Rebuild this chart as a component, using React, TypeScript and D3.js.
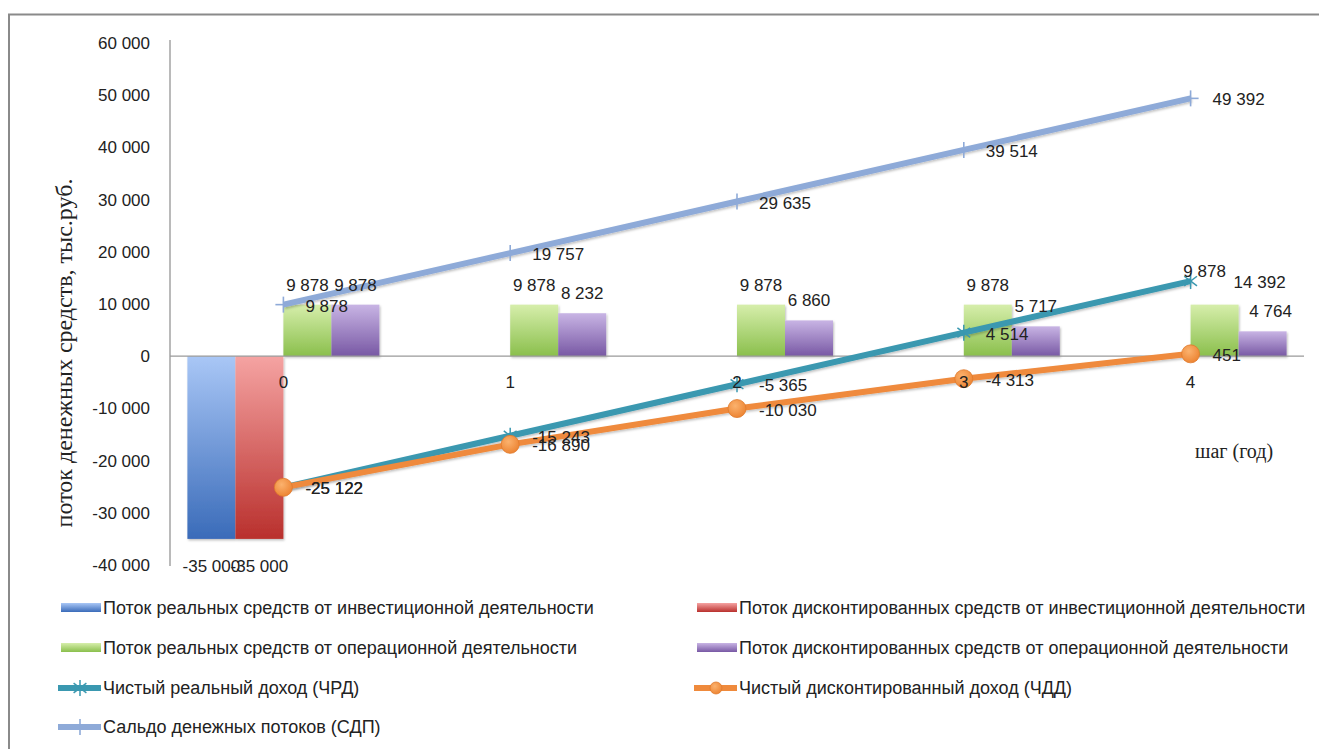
import React from 'react';
import * as d3 from 'd3';

const categories = ['0', '1', '2', '3', '4'];
const realInvest = [-35000, 0, 0, 0, 0];
const discInvest = [-35000, 0, 0, 0, 0];
const realOper = [9878, 9878, 9878, 9878, 9878];
const discOper = [9878, 8232, 6860, 5717, 4764];
const chrd = [-25122, -15243, -5365, 4514, 14392];
const chdd = [-25122, -16890, -10030, -4313, 451];
const sdp = [9878, 19757, 29635, 39514, 49392];
const yTicks = [-40000, -30000, -20000, -10000, 0, 10000, 20000, 30000, 40000, 50000, 60000];

const barSeriesNames = [
  'Поток реальных средств от инвестиционной деятельности',
  'Поток дисконтированных средств от инвестиционной деятельности',
  'Поток реальных средств от операционной деятельности',
  'Поток дисконтированных средств от операционной деятельности',
];
const lineSeriesNames = [
  'Чистый реальный доход (ЧРД)',
  'Чистый дисконтированный доход (ЧДД)',
  'Сальдо денежных потоков (СДП)',
];
const yTitle = 'поток денежных средств, тыс.руб.';
const xTitle = 'шаг (год)';

const W = 1319;
const H = 749;
const FONT = '"Liberation Sans", Arial, sans-serif';
const SERIF = '"Liberation Serif", "Times New Roman", serif';
const FS = 17;
const LFS = 18;

const locale = d3.formatLocale({ decimal: ',', thousands: ' ', grouping: [3], currency: ['', ''], minus: '-' });
const fmt = locale.format(',d');

const barSeries = [
  { key: 'ri', name: barSeriesNames[0], values: realInvest, c0: '#a9c7f6', c1: '#3a6bb9' },
  { key: 'di', name: barSeriesNames[1], values: discInvest, c0: '#f5a3a2', c1: '#b9302d' },
  { key: 'ro', name: barSeriesNames[2], values: realOper, c0: '#d6eeab', c1: '#8abf4c' },
  { key: 'do', name: barSeriesNames[3], values: discOper, c0: '#c8b4e4', c1: '#7858a4' },
];

const lineSeries = [
  { key: 'sdp', name: lineSeriesNames[2], values: sdp, color: '#8eaad8', marker: 'plus' },
  { key: 'chrd', name: lineSeriesNames[0], values: chrd, color: '#3a98b0', marker: 'star' },
  { key: 'chdd', name: lineSeriesNames[1], values: chdd, color: '#ef8a3c', marker: 'circle' },
];

function Marker({ type, x, y, color, r = 9 }: { type: string; x: number; y: number; color: string; r?: number }) {
  if (type === 'plus') {
    return (
      <g stroke={color} strokeWidth={1.6}>
        <line x1={x} x2={x} y1={y - 8} y2={y + 8} />
        <line x1={x - 8} x2={x + 8} y1={y} y2={y} />
      </g>
    );
  }
  if (type === 'star') {
    const s = 8;
    return (
      <g stroke={color} strokeWidth={1.5}>
        <line x1={x} x2={x} y1={y - s} y2={y + s} />
        <line x1={x - s * 0.8} x2={x + s * 0.8} y1={y - s * 0.6} y2={y + s * 0.6} />
        <line x1={x - s * 0.8} x2={x + s * 0.8} y1={y + s * 0.6} y2={y - s * 0.6} />
      </g>
    );
  }
  return <circle cx={x} cy={y} r={r} fill="url(#gOrange)" stroke="#e07a2c" strokeWidth={0.8} />;
}

export default function App() {
  const left = 170;
  const right = 1304;
  const y = d3.scaleLinear().domain([-40000, 60000]).range([565, 43]);
  const x = d3.scaleBand<string>().domain(categories).range([left, right]).padding(0);
  const bw = x.bandwidth();
  const xs = d3
    .scaleBand<string>()
    .domain(barSeries.map((s) => s.key))
    .range([0, bw])
    .paddingInner(0)
    .paddingOuter(0.3625);
  const cx = (i: number) => (x(categories[i]) as number) + bw / 2;
  const y0 = y(0);

  const lineGen = (vals: number[]) =>
    d3
      .line<number>()
      .x((_, i) => cx(i))
      .y((d) => y(d))(vals) as string;

  const legendItems = [
    { col: 0, row: 0, kind: 'bar', s: barSeries[0] },
    { col: 1, row: 0, kind: 'bar', s: barSeries[1] },
    { col: 0, row: 1, kind: 'bar', s: barSeries[2] },
    { col: 1, row: 1, kind: 'bar', s: barSeries[3] },
    { col: 0, row: 2, kind: 'line', s: lineSeries[1] },
    { col: 1, row: 2, kind: 'line', s: lineSeries[2] },
    { col: 0, row: 3, kind: 'line', s: lineSeries[0] },
  ];
  const legX = [60, 696];
  const legY = [608, 648, 688, 727];

  // label nudges mimicking the reference's placement where labels collide
  const lineLabelDx = (key: string, i: number) => (key === 'chrd' && i === 4 ? 43 : 22);
  const barLabelNudge = (key: string, i: number) => {
    if (i === 4 && key === 'ro') return [-10, -14];
    if (i === 4 && key === 'do') return [8, 0];
    return [0, 0];
  };

  return (
    <svg width={W} height={H} style={{ position: 'absolute', left: 0, top: 0, background: '#fff' }}>
      <defs>
        {barSeries.map((s) => (
          <linearGradient key={s.key} id={'g' + s.key} x1="0" y1="0" x2="0" y2="1">
            <stop offset="0" stopColor={s.c0} />
            <stop offset="1" stopColor={s.c1} />
          </linearGradient>
        ))}
        <radialGradient id="gOrange" cx="0.4" cy="0.35" r="0.7">
          <stop offset="0" stopColor="#fbb26e" />
          <stop offset="1" stopColor="#ec8230" />
        </radialGradient>
        <filter id="shadow" x="-20%" y="-20%" width="140%" height="140%">
          <feDropShadow dx="1" dy="1.5" stdDeviation="1.2" floodColor="#000" floodOpacity="0.25" />
        </filter>
      </defs>
      <rect x={0} y={0} width={W} height={H} fill="#fff" />
      {/* frame */}
      <path d={`M9,${H + 5} V14.5 H${W + 5}`} fill="none" stroke="#8a8a8a" strokeWidth={2} />

      {/* y axis */}
      <line x1={left} x2={left} y1={40} y2={566} stroke="#8c8c8c" strokeWidth={1.2} />
      {yTicks.map((t) => (
        <text key={t} x={150} y={y(t) + 6} textAnchor="end" fontFamily={FONT} fontSize={FS} fill="#222">
          {fmt(t)}
        </text>
      ))}
      <text
        transform={`translate(72, 353) rotate(-90)`}
        textAnchor="middle"
        fontFamily={SERIF}
        fontSize={24}
        fill="#222"
      >
        {yTitle}
      </text>

      {/* bars */}
      <g filter="url(#shadow)">
        {barSeries.map((s) =>
          s.values.map((v, i) =>
            v === 0 ? null : (
              <rect
                key={s.key + i}
                x={(x(categories[i]) as number) + (xs(s.key) as number)}
                width={xs.bandwidth()}
                y={Math.min(y(v), y0)}
                height={Math.abs(y(v) - y0)}
                fill={`url(#g${s.key})`}
              />
            )
          )
        )}
      </g>

      {/* x axis */}
      <line x1={left} x2={right} y1={y0} y2={y0} stroke="#9a9a9a" strokeWidth={1.2} />

      {/* lines */}
      {lineSeries.map((s) => (
        <g key={s.key}>
          <path d={lineGen(s.values)} fill="none" stroke={s.color} strokeWidth={6} strokeLinejoin="round" filter="url(#shadow)" />
          {s.values.map((v, i) => (
            <Marker key={i} type={s.marker} x={cx(i)} y={y(v)} color={s.color} />
          ))}
        </g>
      ))}

      {/* category labels */}
      {categories.map((c, i) => (
        <text key={c} x={cx(i)} y={y0 + 32} textAnchor="middle" fontFamily={FONT} fontSize={FS} fill="#222">
          {c}
        </text>
      ))}
      <text x={1195} y={458} fontFamily={SERIF} fontSize={20} fill="#222">
        {xTitle}
      </text>

      {/* bar labels */}
      {barSeries.map((s) =>
        s.values.map((v, i) => {
          if (v === 0) return null;
          const [dx, dy] = barLabelNudge(s.key, i);
          const bx = (x(categories[i]) as number) + (xs(s.key) as number) + xs.bandwidth() / 2;
          const ly = v >= 0 ? y(v) - 20 : y(v) + 27;
          return (
            <text key={s.key + 'l' + i} x={bx + dx} y={ly + 6 + dy} textAnchor="middle" fontFamily={FONT} fontSize={FS} fill="#222">
              {fmt(v)}
            </text>
          );
        })
      )}

      {/* line labels */}
      {lineSeries.map((s) =>
        s.values.map((v, i) => (
          <text key={s.key + 'l' + i} x={cx(i) + lineLabelDx(s.key, i)} y={y(v) + 7} fontFamily={FONT} fontSize={FS} fill="#222">
            {fmt(v)}
          </text>
        ))
      )}

      {/* legend */}
      {legendItems.map((it, k) => {
        const lx = legX[it.col];
        const ly = legY[it.row];
        const s: any = it.s;
        return (
          <g key={k}>
            {it.kind === 'bar' ? (
              <rect x={lx + 1} y={ly - 5} width={40} height={9} fill={`url(#g${s.key})`} />
            ) : (
              <g>
                <line x1={lx - 2} x2={lx + 41} y1={ly} y2={ly} stroke={s.color} strokeWidth={6} />
                <Marker type={s.marker} x={lx + 20} y={ly} color={s.color} r={6} />
              </g>
            )}
            <text x={lx + 43} y={ly + 6} fontFamily={FONT} fontSize={LFS} fill="#222">
              {s.name}
            </text>
          </g>
        );
      })}
    </svg>
  );
}
